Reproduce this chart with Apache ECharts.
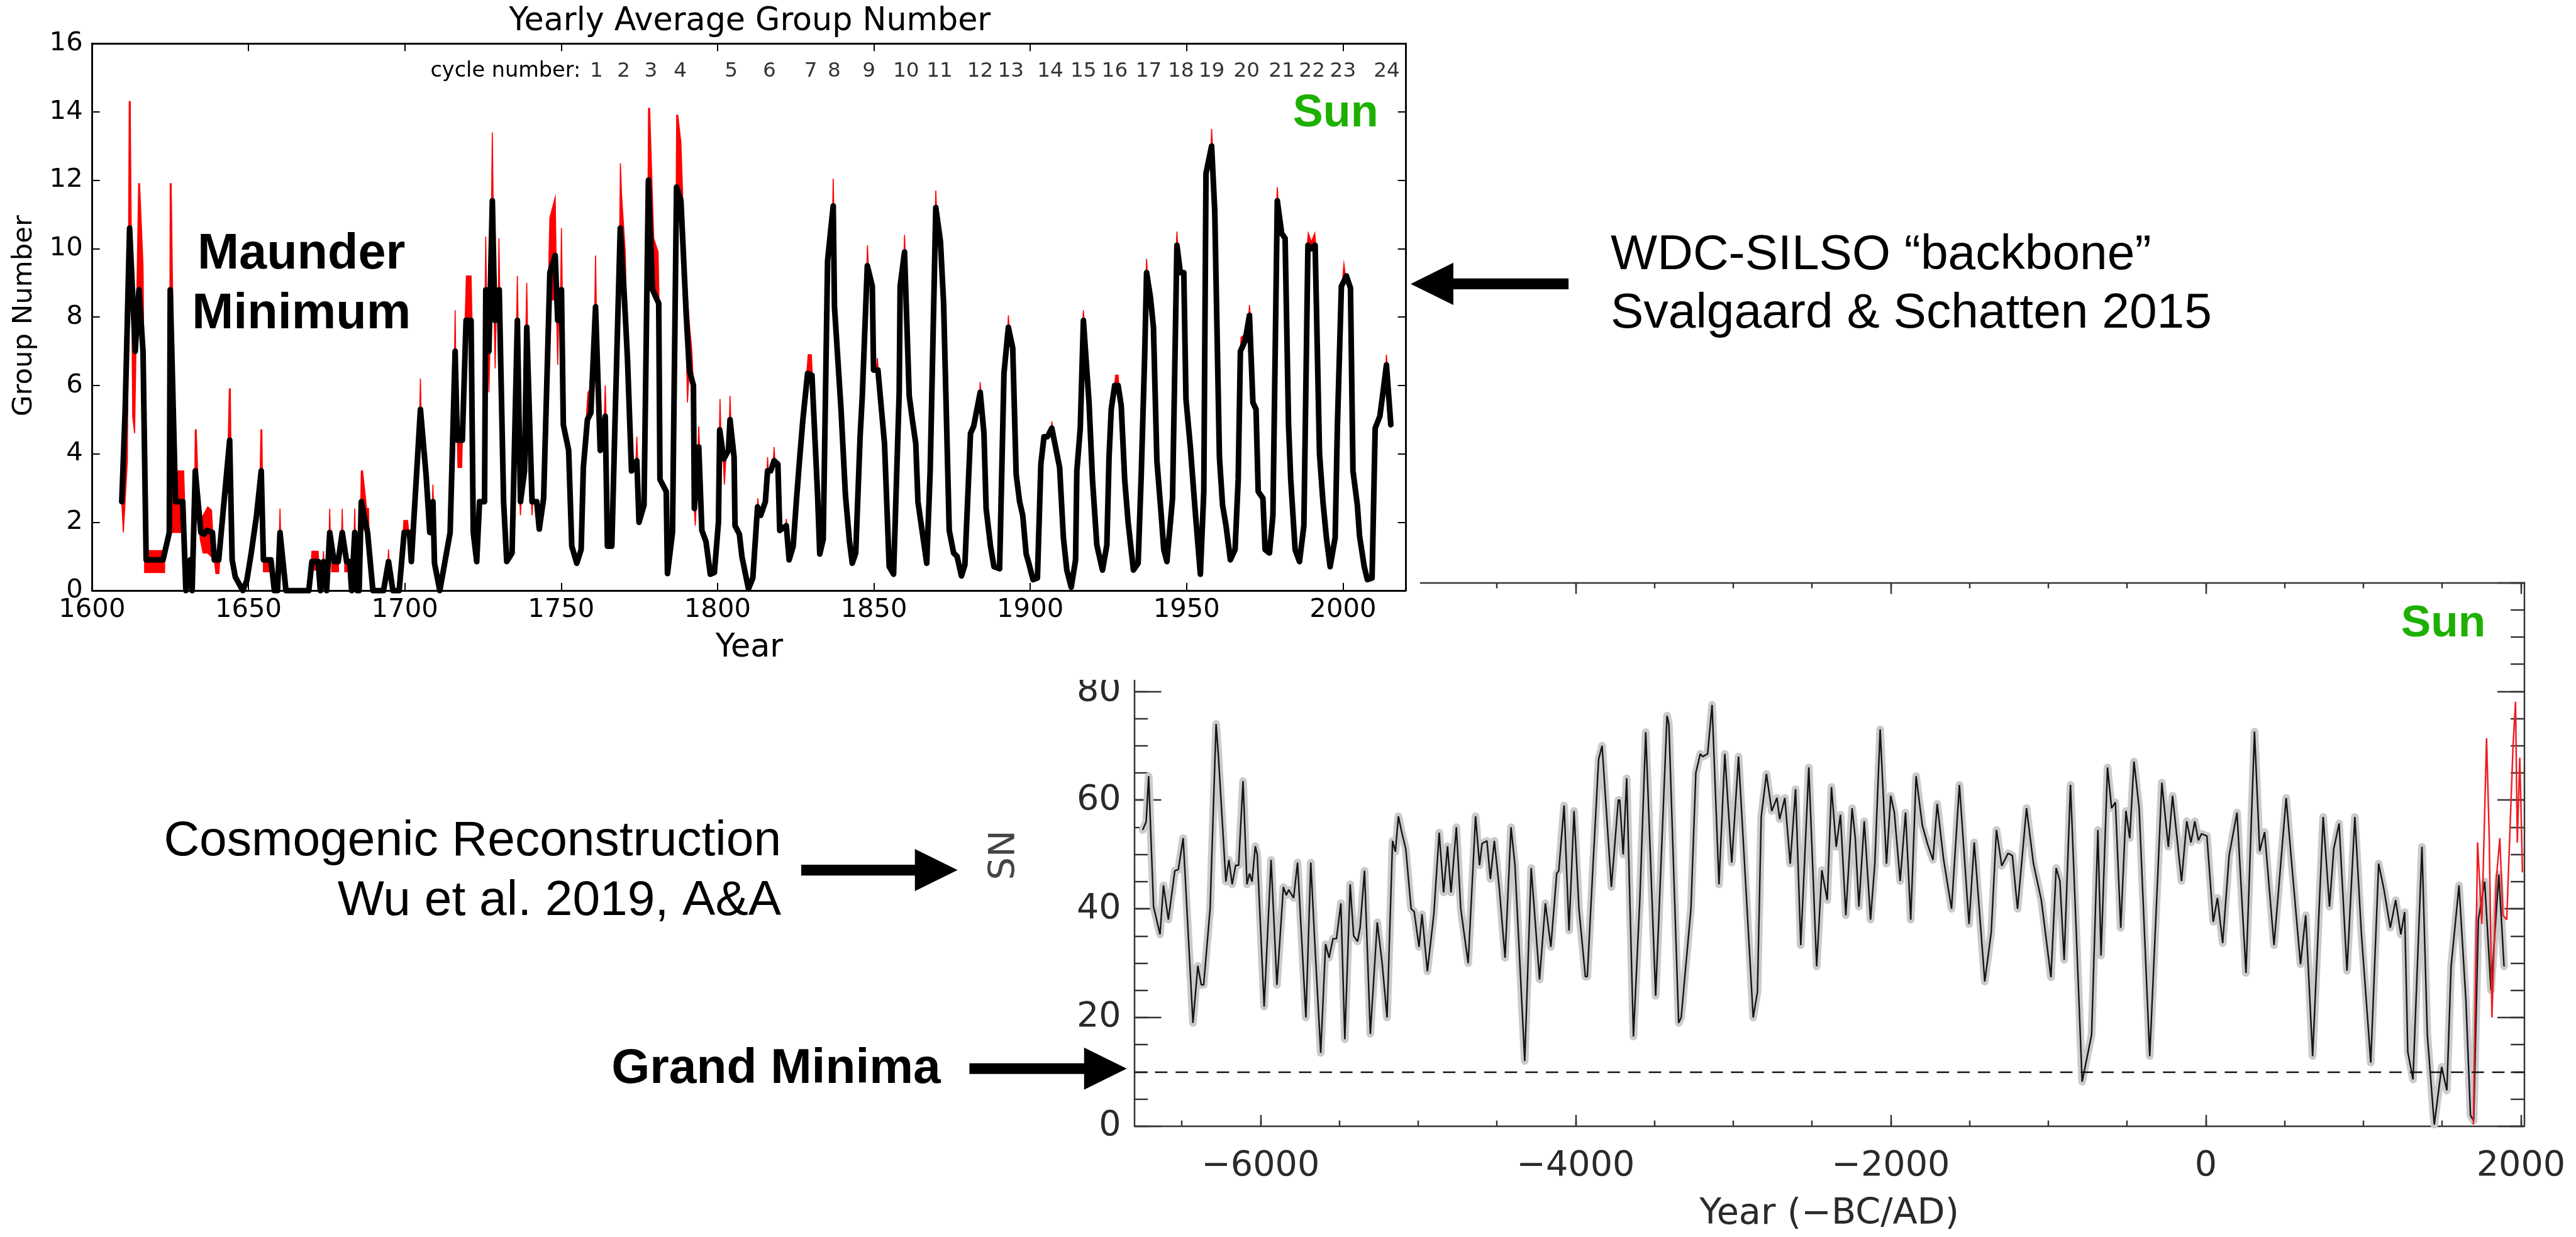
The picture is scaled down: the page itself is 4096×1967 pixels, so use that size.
<!DOCTYPE html>
<html>
<head>
<meta charset="utf-8">
<title>Sun: group number and cosmogenic reconstruction</title>
<script src="https://cdn.jsdelivr.net/npm/echarts@6.0.0/dist/echarts.min.js"></script>
<style>
  html, body { margin: 0; padding: 0; background: #fff; }
  #chart { width: 4096px; height: 1967px; }
</style>
</head>
<body>
<div id="chart"></div>
<script>
// ---- top panel: yearly average group number (backbone), [year, G]
var backbone = [
  [1609.5,2.6],[1610.6,5.3],[1612.0,10.6],[1613.8,7.0],[1615.0,8.8],[1616.3,7.0],[1617.3,0.9],[1622.7,0.9],
  [1624.7,1.7],[1625.0,8.8],[1626.7,2.6],[1629.0,2.6],[1630.0,0],[1631.4,0.9],[1632.0,0],[1633.0,3.5],
  [1634.8,1.7],[1635.8,1.65],[1636.8,1.76],[1638.5,1.7],[1639.1,0.9],[1640.5,0.9],[1642.1,2.5],[1644.0,4.4],
  [1644.8,0.9],[1645.8,0.4],[1648.2,0],[1649.5,0.3],[1650.9,1.1],[1652.6,2.2],[1654.1,3.5],[1654.8,0.9],
  [1657.2,0.9],[1658.3,0],[1659.3,0],[1660.1,1.7],[1662.0,0],[1669.3,0],[1670.3,0.85],[1672.3,0.85],
  [1673.0,0],[1674.0,0.85],[1675.0,0],[1676.0,1.7],[1677.4,0.85],[1678.7,0.85],[1680.0,1.7],[1681.4,0.85],
  [1682.4,0.85],[1683.0,0],[1684.0,1.7],[1684.8,0],[1685.4,0],[1686.1,2.6],[1688.1,1.7],[1689.8,0],
  [1693.2,0],[1694.8,0.85],[1696.2,0],[1698.2,0],[1699.8,1.7],[1701.5,1.7],[1702.1,0.85],[1705.0,5.3],
  [1706.8,3.4],[1708.0,1.7],[1709.0,2.6],[1709.5,0.8],[1711.2,0],[1714.5,1.7],[1716.1,7.0],[1716.8,4.4],
  [1718.4,4.4],[1719.6,7.9],[1721.2,7.9],[1721.9,1.7],[1723.0,0.85],[1723.9,2.6],[1725.5,2.6],[1725.9,8.8],
  [1726.9,7.0],[1728.0,11.4],[1728.8,7.9],[1730.2,8.8],[1731.6,2.6],[1732.6,0.85],[1734.3,1.1],[1736.0,7.9],
  [1737.0,2.6],[1738.3,3.5],[1739.0,7.7],[1740.7,2.6],[1742.2,2.6],[1743.0,1.8],[1744.4,2.7],[1746.4,9.3],
  [1748.1,9.8],[1748.9,7.9],[1750.1,8.8],[1750.7,4.85],[1752.4,4.1],[1753.4,1.3],[1755.0,0.8],[1756.4,1.2],
  [1757.1,3.6],[1758.4,5.0],[1759.5,5.2],[1761.0,8.3],[1762.5,4.1],[1764.1,5.1],[1764.8,1.3],[1766.2,1.3],
  [1767.3,5.2],[1768.9,10.6],[1770.2,8.6],[1771.2,6.8],[1772.5,3.5],[1774.2,3.8],[1774.9,2.0],[1776.5,2.5],
  [1777.9,12.0],[1779.2,8.8],[1781.2,8.4],[1781.6,3.25],[1783.6,2.9],[1784.0,0.5],[1785.6,1.7],[1786.9,11.8],
  [1788.3,11.4],[1790.0,8.05],[1791.0,6.45],[1792.3,6.0],[1792.6,2.4],[1794.0,4.2],[1795.0,1.76],[1796.3,1.44],
  [1797.7,0.48],[1799.0,0.53],[1800.3,2.0],[1800.7,4.7],[1802.0,3.85],[1803.5,4.1],[1804.0,5.0],[1805.3,3.9],
  [1805.6,1.9],[1807.0,1.65],[1807.8,1.0],[1809.9,0.05],[1811.3,0.37],[1812.8,2.45],[1813.8,2.2],[1815.3,2.6],
  [1816.0,3.5],[1817.0,3.5],[1818.1,3.8],[1819.3,3.7],[1819.9,1.76],[1822.0,1.9],[1822.9,0.9],[1824.2,1.3],
  [1825.2,2.6],[1826.3,3.9],[1827.3,5.0],[1828.8,6.35],[1830.2,6.3],[1832.0,2.8],[1832.7,1.07],[1833.8,1.5],
  [1835.2,9.65],[1837.0,11.25],[1837.4,8.3],[1839.5,5.3],[1840.9,2.8],[1842.2,1.44],[1843.1,0.8],[1844.2,1.1],
  [1845.6,4.5],[1846.3,5.7],[1847.9,9.5],[1849.5,8.9],[1849.9,6.45],[1851.3,6.45],[1853.4,4.3],[1854.9,0.7],
  [1856.3,0.48],[1858.1,5.8],[1858.4,8.9],[1859.8,9.9],[1861.3,5.7],[1862.3,5.0],[1863.4,4.3],[1864.1,2.6],
  [1866.9,0.8],[1868.0,3.5],[1869.8,11.2],[1871.3,10.2],[1872.3,8.4],[1874.1,1.76],[1875.5,1.1],[1876.6,1.0],
  [1878.0,0.43],[1879.1,0.75],[1880.9,4.6],[1881.9,4.8],[1884.0,5.8],[1885.2,4.6],[1885.9,2.4],[1887.3,1.3],
  [1888.4,0.7],[1890.2,0.64],[1891.6,6.35],[1893.0,7.7],[1894.4,7.1],[1895.5,3.4],[1896.6,2.6],[1897.6,2.2],
  [1898.7,1.07],[1899.4,0.85],[1900.9,0.32],[1902.3,0.37],[1903.4,3.7],[1904.4,4.5],[1905.5,4.5],[1906.9,4.75],
  [1909.4,3.6],[1910.6,1.55],[1911.7,0.6],[1913.1,0.1],[1914.5,0.9],[1914.9,3.5],[1916.0,4.75],[1917.0,7.9],
  [1918.8,5.5],[1919.9,3.25],[1921.3,1.33],[1923.1,0.6],[1924.5,1.33],[1925.2,3.9],[1925.9,5.3],[1927.0,6.0],
  [1928.1,6.0],[1929.1,5.4],[1930.2,3.25],[1931.3,2.0],[1933.0,0.6],[1934.5,0.8],[1935.5,3.4],[1936.6,6.9],
  [1937.2,9.3],[1938.4,8.6],[1939.4,7.7],[1940.5,3.8],[1941.9,2.2],[1942.7,1.2],[1943.7,0.85],[1945.5,2.7],
  [1946.9,10.1],[1948.0,9.3],[1949.1,9.3],[1949.8,5.6],[1951.2,4.2],[1952.6,2.5],[1954.4,0.48],[1955.5,2.9],
  [1956.2,12.2],[1958.0,13.0],[1959.0,11.1],[1960.5,3.9],[1961.5,2.5],[1962.6,1.9],[1964.0,0.9],[1965.5,1.2],
  [1966.5,3.25],[1967.2,7.0],[1968.7,7.3],[1970.1,8.05],[1971.2,5.5],[1972.2,5.3],[1972.9,2.9],[1974.4,2.7],
  [1975.1,1.2],[1976.5,1.1],[1977.6,2.2],[1979.0,11.4],[1980.4,10.45],[1981.5,10.3],[1982.6,4.85],[1983.3,3.25],
  [1984.7,1.2],[1986.1,0.85],[1987.5,1.9],[1988.8,10.1],[1989.9,10.0],[1991.1,10.1],[1992.5,4.0],[1993.6,2.6],
  [1994.7,1.55],[1995.9,0.7],[1997.5,1.55],[1998.2,4.75],[1999.5,8.9],[2001.1,9.2],[2002.4,8.85],[2003.2,3.5],
  [2004.6,2.5],[2005.3,1.6],[2006.8,0.7],[2007.8,0.32],[2009.3,0.37],[2010.3,4.75],[2011.8,5.1],[2012.8,5.8],
  [2013.9,6.6],[2015.3,4.85]
];

// red spread around the backbone, read as outlines [year, G]
var redShapes = [
  [[1610.0,1.7],[1611.3,3.8],[1611.9,14.3],[1612.2,14.3],[1613.0,5.1],[1613.6,4.6],[1614.9,11.9],[1615.2,11.9],[1616.3,9.5],[1617.2,0.55],[1617.3,0.9],[1616.3,7.0],[1615.0,8.8],[1613.8,7.0],[1612.0,10.6],[1610.6,5.3],[1609.5,2.6]],
  [[1616.8,1.17],[1623.2,1.17],[1623.2,0.53],[1616.8,0.53]],
  [[1624.7,1.7],[1625.0,11.9],[1625.3,11.9],[1626.3,5.0],[1626.7,3.5],[1629.3,3.5],[1629.6,2.6],[1629.3,1.7],[1626.7,1.7]],
  [[1632.8,2.5],[1633.0,4.7],[1633.3,4.7],[1634.0,2.9]],
  [[1634.2,2.0],[1635.5,2.2],[1637.0,2.45],[1638.2,2.35],[1639.0,1.0],[1639.6,0.5],[1640.6,0.5],[1640.8,0.9],[1639.1,0.9],[1637.0,1.1],[1635.5,1.1],[1634.6,1.5]],
  [[1643.2,3.0],[1643.9,5.9],[1644.2,5.9],[1644.6,2.5]],
  [[1653.6,2.8],[1654.0,4.7],[1654.3,4.7],[1654.6,2.5]],
  [[1654.8,0.55],[1657.2,0.55],[1657.3,0.9],[1654.8,0.9]],
  [[1659.8,1.2],[1660.1,2.4],[1660.4,1.2]],
  [[1670.0,0.6],[1670.3,1.15],[1672.3,1.15],[1672.6,0.6]],
  [[1673.8,0.6],[1674.0,1.15],[1674.3,0.6]],
  [[1675.7,1.2],[1676.0,2.4],[1676.3,1.2]],
  [[1676.6,0.55],[1678.8,0.55],[1678.8,0.85],[1676.6,0.85]],
  [[1679.7,1.2],[1680.0,2.4],[1680.3,1.2]],
  [[1680.8,0.55],[1682.5,0.55],[1682.5,0.85],[1680.8,0.85]],
  [[1683.7,1.2],[1684.0,2.4],[1684.3,1.2]],
  [[1685.8,2.0],[1686.1,3.5],[1686.5,3.5],[1687.8,2.4],[1688.4,2.4],[1688.6,1.5]],
  [[1694.5,0.6],[1694.8,1.2],[1695.1,0.6]],
  [[1699.5,1.7],[1699.7,2.05],[1700.9,2.05],[1701.3,1.7]],
  [[1704.6,4.5],[1705.0,6.2],[1705.3,4.8]],
  [[1708.7,2.2],[1709.0,3.1],[1709.3,2.2]],
  [[1715.8,6.0],[1716.1,8.2],[1716.4,6.0]],
  [[1716.8,4.4],[1717.0,3.6],[1718.2,3.6],[1718.4,4.4]],
  [[1719.3,7.9],[1719.7,9.2],[1721.2,9.2],[1721.5,7.9]],
  [[1725.6,8.0],[1725.9,10.35],[1726.2,8.0]],
  [[1726.6,7.0],[1726.9,5.8],[1727.2,7.0]],
  [[1727.7,11.0],[1728.0,13.4],[1728.3,11.0]],
  [[1728.6,7.9],[1728.9,6.5],[1729.2,7.9]],
  [[1729.9,8.5],[1730.1,10.3],[1730.4,8.5]],
  [[1735.7,7.5],[1736.0,9.2],[1736.3,7.5]],
  [[1736.7,2.8],[1737.0,2.2],[1737.3,2.8]],
  [[1738.7,7.5],[1739.0,9.0],[1739.3,7.5]],
  [[1740.4,2.8],[1740.7,2.2],[1741.0,2.8]],
  [[1745.8,8.5],[1746.4,10.9],[1748.1,11.5],[1748.6,8.5]],
  [[1748.6,7.9],[1748.9,6.6],[1749.2,7.9]],
  [[1749.8,8.5],[1750.1,10.6],[1750.4,8.5]],
  [[1757.1,3.6],[1758.0,5.0],[1758.6,5.8],[1759.4,5.9],[1759.6,5.2],[1758.4,5.0]],
  [[1760.7,8.0],[1761.0,9.8],[1761.3,8.0]],
  [[1763.8,5.0],[1764.1,6.0],[1764.4,5.0]],
  [[1768.7,10.3],[1768.95,12.5],[1769.3,11.6],[1770.5,9.9],[1771.2,6.8],[1770.2,8.6],[1768.9,10.6]],
  [[1773.9,3.7],[1774.2,4.5],[1774.5,3.7]],
  [[1777.8,12.0],[1777.95,14.1],[1778.3,14.1],[1779.6,10.3],[1781.0,9.9],[1781.3,8.4],[1779.2,8.8]],
  [[1786.8,11.8],[1786.95,13.9],[1787.3,13.9],[1788.3,13.1],[1789.5,9.8],[1791.0,7.8],[1791.8,7.0],[1792.3,6.0],[1791.0,6.45],[1790.0,8.05],[1788.3,11.4]],
  [[1789.8,8.0],[1790.4,5.5],[1790.9,6.4]],
  [[1792.6,2.4],[1792.9,1.9],[1793.2,2.6]],
  [[1793.7,4.0],[1794.0,4.8],[1794.3,4.0]],
  [[1800.5,4.0],[1800.8,5.6],[1801.1,4.5]],
  [[1801.8,3.9],[1802.2,3.1],[1802.7,3.9]],
  [[1803.7,4.6],[1804.0,5.7],[1804.3,4.8]],
  [[1812.6,2.3],[1812.9,2.7],[1813.2,2.3]],
  [[1815.8,3.4],[1816.0,3.9],[1816.3,3.4]],
  [[1817.8,3.7],[1818.1,4.2],[1818.4,3.7]],
  [[1821.7,1.8],[1822.0,2.1],[1822.3,1.8]],
  [[1828.5,6.3],[1829.0,6.9],[1830.0,6.9],[1830.3,6.3]],
  [[1836.8,11.0],[1837.0,12.05],[1837.2,11.0]],
  [[1847.7,9.3],[1847.95,10.1],[1848.3,9.3]],
  [[1850.8,6.45],[1851.1,6.8],[1851.4,6.45]],
  [[1859.6,9.7],[1859.8,10.4],[1860.1,9.7]],
  [[1869.6,11.0],[1869.8,11.7],[1870.1,11.0]],
  [[1883.8,5.7],[1884.0,6.1],[1884.3,5.7]],
  [[1892.8,7.6],[1893.0,8.05],[1893.3,7.6]],
  [[1906.7,4.7],[1906.9,4.95],[1907.2,4.7]],
  [[1916.8,7.8],[1917.0,8.2],[1917.3,7.8]],
  [[1927.0,6.0],[1927.3,6.3],[1928.1,6.3],[1928.3,6.0]],
  [[1937.0,9.2],[1937.2,9.7],[1937.5,9.2]],
  [[1946.7,10.0],[1946.9,10.5],[1947.2,10.0]],
  [[1947.9,9.3],[1948.1,9.6],[1948.4,9.3]],
  [[1957.8,12.9],[1958.0,13.5],[1958.3,12.9]],
  [[1967.2,7.0],[1967.4,7.4],[1968.7,7.5],[1968.9,7.3]],
  [[1969.9,8.0],[1970.1,8.35],[1970.4,8.0]],
  [[1978.8,11.3],[1979.0,11.8],[1979.3,11.3]],
  [[1980.2,10.4],[1980.5,10.8],[1980.8,10.4]],
  [[1988.6,10.1],[1988.9,10.45],[1989.9,10.2],[1991.0,10.45],[1991.3,10.1]],
  [[1999.9,9.1],[2000.3,9.55],[2000.8,9.2]],
  [[2013.7,6.5],[2013.9,6.9],[2014.2,6.5]]
];

// cycle maxima marked by the grey lines
var cycleYears = [1761.3, 1770.0, 1778.7, 1788.1, 1804.4, 1816.6, 1829.8, 1837.3, 1848.4, 1860.3, 1871.0, 1884.0,
                  1893.8, 1906.4, 1917.0, 1927.0, 1937.9, 1948.2, 1958.0, 1969.2, 1980.4, 1990.1, 2000.0, 2014.0];
var cycleNumbers = [1, 2, 3, 4, 5, 6, 7, 8, 9, 10, 11, 12, 13, 14, 15, 16, 17, 18, 19, 20, 21, 22, 23, 24];
var topYearTicks = [1600, 1650, 1700, 1750, 1800, 1850, 1900, 1950, 2000];

// ---- bottom panel: cosmogenic reconstruction, [year, SN]
var reconstruction = [
  [-6748,54.5],[-6726,56],[-6710,64.4],[-6679,40.4],[-6638,35.3],[-6616,44.3],[-6585,38],[-6544,47],[-6522,47.2],
  [-6491,53],[-6429,19],[-6398,29.5],[-6376,26],[-6361,26],[-6320,40],[-6282,74],[-6267,68],[-6220,45],[-6201,49],
  [-6180,44.5],[-6158,48],[-6139,48],[-6111,63.5],[-6086,44.5],[-6070,46.5],[-6054,45],[-6033,51.5],[-6021,50],
  [-5977,22],[-5933,49],[-5896,26],[-5855,44],[-5836,42.5],[-5821,43.5],[-5790,42],[-5765,48.5],[-5712,20],
  [-5681,48.5],[-5656,34],[-5618,13.5],[-5587,33.5],[-5565,31],[-5540,34.5],[-5518,34.5],[-5490,41],[-5465,16],
  [-5431,44.5],[-5409,35],[-5384,34],[-5368,36.5],[-5340,47],[-5303,17],[-5259,37.5],[-5228,30],[-5197,20],
  [-5162,52.5],[-5144,50.5],[-5125,57],[-5103,54],[-5078,51],[-5044,40],[-5025,39.5],[-4994,33],[-4975,39],
  [-4941,28.5],[-4900,39],[-4866,54],[-4838,43],[-4813,51.5],[-4791,43],[-4757,55],[-4729,40],[-4682,30],
  [-4635,57],[-4610,48],[-4594,52],[-4563,52.5],[-4541,45.5],[-4516,52.5],[-4485,44],[-4448,31],[-4410,55],
  [-4385,48],[-4323,12],[-4282,47.5],[-4229,27],[-4192,41],[-4157,33],[-4120,46.5],[-4107,47],[-4073,59],
  [-4042,36],[-4010,58],[-3979,40],[-3938,27.5],[-3926,27.5],[-3895,45],[-3854,67.5],[-3832,70],[-3773,44],
  [-3729,60],[-3720,60],[-3698,50],[-3676,64],[-3633,16.5],[-3592,42],[-3555,72.5],[-3492,24],[-3420,75.5],
  [-3408,74],[-3346,19],[-3330,20],[-3268,40],[-3237,65],[-3209,68.5],[-3193,68],[-3162,68.5],[-3134,77.5],
  [-3090,44.5],[-3053,68.5],[-3009,48.5],[-2966,68],[-2873,20],[-2846,24.7],[-2822,56.9],[-2789,64.8],
  [-2755,58],[-2722,60.4],[-2705,56.5],[-2688,58.5],[-2672,60.4],[-2638,48.3],[-2604,62],[-2571,33.3],
  [-2520,66],[-2470,29.4],[-2437,47.1],[-2403,41.6],[-2376,62.4],[-2346,51.4],[-2319,57.3],[-2285,38.8],
  [-2245,58.5],[-2225,53],[-2202,40.4],[-2168,56.1],[-2128,38],[-2101,48.3],[-2067,73],[-2027,48.3],
  [-2000,60.8],[-1977,57.7],[-1940,45.1],[-1906,57.7],[-1873,38],[-1839,64.4],[-1799,55.3],[-1765,51.8],
  [-1732,49],[-1705,59.3],[-1664,49],[-1614,40],[-1564,62.8],[-1503,37.2],[-1470,52.2],[-1403,26.6],
  [-1362,35.7],[-1329,54.5],[-1295,47.9],[-1255,50.2],[-1228,49.8],[-1195,40],[-1138,58.5],[-1094,48.3],
  [-1044,41.6],[-983,27.4],[-950,47.5],[-926,45.1],[-899,30.6],[-859,62.8],[-785,8.2],[-725,16.8],
  [-685,54.5],[-665,31.4],[-624,66],[-598,58.5],[-574,59.6],[-540,36.5],[-507,58],[-483,53],[-456,67.1],
  [-423,58.5],[-356,12.9],[-279,63.2],[-238,51.4],[-211,60.8],[-154,45.1],[-121,56.1],[-94,52.2],[-70,56.1],
  [-47,52.6],[-27,53.8],[7,53.4],[47,37.6],[74,42],[107,33.7],[148,49.8],[198,57.7],[255,28.2],[309,72.6],
  [342,50.6],[373,54.1],[433,33.3],[510,60.4],[550,46.7],[601,29.8],[634,38.8],[678,12.9],[745,56.9],
  [785,40.4],[812,51],[846,55.7],[896,28.6],[946,56.9],[987,35.7],[1047,11.7],[1097,48.3],[1131,43.5],
  [1171,36.5],[1205,41.6],[1238,35.3],[1262,39.4],[1282,13.7],[1315,8.6],[1372,51.4],[1406,16.8],[1450,0.3],
  [1497,10.9],[1530,6.6],[1557,29.4],[1607,44.3],[1651,23.1],[1680,2],[1700,1],[1730,38],[1770,45],
  [1810,25],[1860,46.3],[1893,29.4]
];
// observed decadal sunspot number (red)
var observedSN = [
  [1698,0.3],[1725,52.2],[1752,37.2],[1782,71.4],[1799,53],[1816,20],[1843,45.1],[1866,53],[1886,38.8],
  [1910,38],[1950,69.9],[1966,78.1],[1977,52.2],[1993,67.8],[2010,46.7]
];
var grandMinimumLevel = 10;
var snMajorTicks = [0, 20, 40, 60, 80, 100];
var snLabels = [0, 20, 40, 60, 80];
var yearMajorTicks = [-6000, -4000, -2000, 0, 2000];
var yearMinorTicks = [-6500, -6000, -5500, -5000, -4500, -4000, -3500, -3000, -2500, -2000, -1500, -1000, -500,
                      0, 500, 1000, 1500, 2000];
var snMinorTicks = [0, 5, 10, 15, 20, 25, 30, 35, 40, 45, 50, 55, 60, 65, 70, 75, 80, 85, 90, 95, 100];

// ---- layout, measured on the 5009 px wide original and scaled to the window
var S = 4096 / 5009;
function px(v) { return v * S; }

var DJ = 'DejaVu Sans, sans-serif';
var HV = 'Liberation Sans, Arial, Helvetica, sans-serif';
var GREEN = '#1eb000';

var chart = echarts.init(document.getElementById('chart'));

function axisBase(grid, pos, extra) {
  var a = {
    type: 'value', gridIndex: grid, position: pos,
    axisLine: { show: true, onZero: false, lineStyle: { color: '#000', width: px(3.5) } },
    axisTick: { show: true, inside: true },
    axisLabel: { show: false },
    splitLine: { show: false }
  };
  for (var k in extra) a[k] = extra[k];
  return a;
}
function plain(v) { return String(v); }

var hidden = { show: false, onZero: false };
var line3 = { show: true, onZero: false, lineStyle: { color: '#333', width: px(3) } };

// top panel axes
var topTick = { show: true, inside: true, length: px(15), customValues: topYearTicks, lineStyle: { color: '#000', width: px(2.5) } };
var topYTick = { show: true, inside: true, length: px(15), lineStyle: { color: '#000', width: px(2.5) } };
var xAxes = [
  axisBase(0, 'bottom', { min: 1600, max: 2020, z: 70, axisTick: topTick,
    axisLabel: { show: true, customValues: topYearTicks, formatter: plain, margin: px(12), fontFamily: DJ, fontSize: px(51), color: '#000' } }),
  axisBase(0, 'top', { min: 1600, max: 2020, z: 70, axisTick: topTick }),
  // bottom panel: major + minor on bottom and top
  axisBase(1, 'bottom', { min: -6800, max: 2020, axisLine: line3,
    axisTick: { show: true, inside: true, length: px(22), customValues: yearMajorTicks, lineStyle: { color: '#333', width: px(3) } },
    axisLabel: { show: true, customValues: yearMajorTicks, margin: px(44), fontFamily: DJ, fontSize: px(68), color: '#2a2a2a',
      formatter: function (v) { return v < 0 ? '\u2212' + Math.abs(v) : String(v); } } }),
  axisBase(1, 'bottom', { min: -6800, max: 2020, axisLine: hidden,
    axisTick: { show: true, inside: true, length: px(11), customValues: yearMinorTicks, lineStyle: { color: '#333', width: px(3) } } }),
  axisBase(1, 'top', { min: -6800, max: 2020, axisLine: line3,
    axisTick: { show: true, inside: true, length: px(22), customValues: yearMajorTicks, lineStyle: { color: '#333', width: px(3) } } }),
  axisBase(1, 'top', { min: -6800, max: 2020, axisLine: hidden,
    axisTick: { show: true, inside: true, length: px(11), customValues: yearMinorTicks, lineStyle: { color: '#333', width: px(3) } } })
];
var yAxes = [
  axisBase(0, 'left', { min: 0, max: 16, interval: 2, z: 70, axisTick: topYTick,
    axisLabel: { show: true, formatter: plain, margin: px(18), fontFamily: DJ, fontSize: px(51), color: '#000' } }),
  axisBase(0, 'right', { min: 0, max: 16, interval: 2, z: 70, axisTick: topYTick }),
  axisBase(1, 'left', { min: 0, max: 100, axisLine: line3,
    axisTick: { show: true, inside: true, length: px(52), customValues: snMajorTicks, lineStyle: { color: '#333', width: px(3) } },
    axisLabel: { show: true, customValues: snLabels, margin: px(26), fontFamily: DJ, fontSize: px(68), color: '#2a2a2a' } }),
  axisBase(1, 'left', { min: 0, max: 100, axisLine: hidden,
    axisTick: { show: true, inside: true, length: px(26), customValues: snMinorTicks, lineStyle: { color: '#333', width: px(3) } } }),
  axisBase(1, 'right', { min: 0, max: 100, axisLine: line3,
    axisTick: { show: true, inside: true, length: px(52), customValues: snMajorTicks, lineStyle: { color: '#333', width: px(3) } } }),
  axisBase(1, 'right', { min: 0, max: 100, axisLine: hidden,
    axisTick: { show: true, inside: true, length: px(26), customValues: snMinorTicks, lineStyle: { color: '#333', width: px(3) } } })
];

function arrow(tipX, tailX, cy) {
  var dir = tailX > tipX ? 1 : -1;
  var hb = tipX + dir * px(83);
  var hh = px(41), sh = px(10.5);
  return {
    type: 'polygon', z: 100, silent: true,
    shape: { points: [[tipX, cy], [hb, cy - hh], [hb, cy - sh], [tailX, cy - sh], [tailX, cy + sh], [hb, cy + sh], [hb, cy + hh]] },
    style: { fill: '#000' }
  };
}

function label(x, y, text, size, opts) {
  opts = opts || {};
  return {
    type: 'text', x: x, y: y, z: opts.z || 100, rotation: opts.rotation || 0, silent: true,
    style: {
      text: text, fill: opts.color || '#000', fontFamily: opts.family || HV, fontSize: size,
      fontWeight: opts.weight || 'normal', align: opts.align || 'center', verticalAlign: 'middle',
      backgroundColor: opts.bg, padding: opts.padding
    }
  };
}

var option = {
  backgroundColor: '#fff',
  animation: false,
  grid: [
    { left: px(179), top: px(84.5), width: px(2554), height: px(1064), outerBoundsMode: 'none' },
    { left: px(2206), top: px(1133), width: px(2702), height: px(1057), outerBoundsMode: 'none' }
  ],
  xAxis: xAxes,
  yAxis: yAxes,
  series: [
    // bottom panel
    {
      type: 'line', xAxisIndex: 2, yAxisIndex: 2, data: reconstruction, showSymbol: false, silent: true, z: 2,
      lineStyle: { color: '#cbcbcb', width: px(15), join: 'round', cap: 'round' }
    },
    {
      type: 'line', xAxisIndex: 2, yAxisIndex: 2, data: reconstruction, showSymbol: false, silent: true, z: 3,
      lineStyle: { color: '#151515', width: px(3) },
      markLine: {
        silent: true, symbol: ['none', 'none'], label: { show: false },
        lineStyle: { color: '#111', width: px(3), type: [px(24), px(16)] },
        data: [{ yAxis: grandMinimumLevel }]
      }
    },
    {
      type: 'line', xAxisIndex: 2, yAxisIndex: 2, data: observedSN, showSymbol: false, silent: true, z: 4,
      lineStyle: { color: '#ee1d23', width: px(3) }
    },
    // top panel
    {
      type: 'scatter', xAxisIndex: 0, yAxisIndex: 0, z: 55, silent: true, symbolSize: 0,
      data: cycleYears.map(function (y, i) { return [y, 15.19, cycleNumbers[i]]; }),
      label: { show: true, position: 'inside', formatter: function (p) { return String(p.data[2]); },
        fontFamily: DJ, fontSize: px(40), color: '#000' },
      markLine: {
        silent: true, symbol: ['none', 'none'], label: { show: false },
        lineStyle: { color: '#d3d3d3', width: px(3.5), type: 'solid' },
        data: cycleYears.map(function (y) { return { xAxis: y }; })
      }
    },
    {
      type: 'custom', xAxisIndex: 0, yAxisIndex: 0, z: 60, silent: true,
      data: redShapes.map(function (s) { return [s[0][0], s[0][1]]; }),
      renderItem: function (params, api) {
        var pts = redShapes[params.dataIndex].map(function (p) { return api.coord(p); });
        return { type: 'polygon', shape: { points: pts }, style: { fill: '#ff0000', stroke: '#ff0000', lineWidth: px(2) } };
      }
    },
    {
      type: 'line', xAxisIndex: 0, yAxisIndex: 0, data: backbone, showSymbol: false, silent: true, z: 62,
      lineStyle: { color: '#000', width: px(11), join: 'round', cap: 'round' }
    }
  ],
  graphic: {
    elements: [
      // the top figure sits on a white sheet over the corner of the bottom one
      { type: 'rect', z: 50, silent: true, shape: { x: 0, y: 0, width: px(2761), height: px(1322) }, style: { fill: '#fff' } },
      label(px(1458), px(42), 'Yearly Average Group Number', px(62), { family: DJ }),
      label(px(1457), px(1261), 'Year', px(62), { family: DJ }),
      label(px(47), px(614), 'Group Number', px(53), { family: DJ, rotation: Math.PI / 2 }),
      label(px(1129), px(138), 'cycle number:', px(41), { family: DJ, align: 'right' }),
      label(px(2597), px(222), 'Sun', px(88), { weight: 'bold', color: GREEN, bg: '#fff', padding: [px(20), px(10), px(30), px(10)] }),
      label(px(586), px(496), 'Maunder', px(97), { weight: 'bold' }),
      label(px(586), px(611), 'Minimum', px(97), { weight: 'bold' }),
      arrow(px(2743), px(3050), px(552)),
      label(px(3132), px(497), 'WDC-SILSO \u201cbackbone\u201d', px(96), { align: 'left' }),
      label(px(3132), px(611), 'Svalgaard & Schatten 2015', px(96), { align: 'left' }),
      label(px(1519), px(1637), 'Cosmogenic Reconstruction', px(96), { align: 'right' }),
      label(px(1519), px(1753), 'Wu et al. 2019, A&A', px(96), { align: 'right' }),
      arrow(px(1862), px(1558), px(1692)),
      label(px(1509), px(2079), 'Grand Minima', px(96), { weight: 'bold' }),
      arrow(px(2191), px(1885), px(2078)),
      label(px(4751), px(1214), 'Sun', px(87), { weight: 'bold', color: GREEN }),
      label(px(1954), px(1663), 'SN', px(70), { family: DJ, color: '#444', rotation: Math.PI / 2, z: 10 }),
      label(px(3557), px(2362), 'Year (\u2212BC/AD)', px(70), { family: DJ, color: '#2a2a2a', z: 10 })
    ]
  }
};

chart.setOption(option);
</script>
</body>
</html>
